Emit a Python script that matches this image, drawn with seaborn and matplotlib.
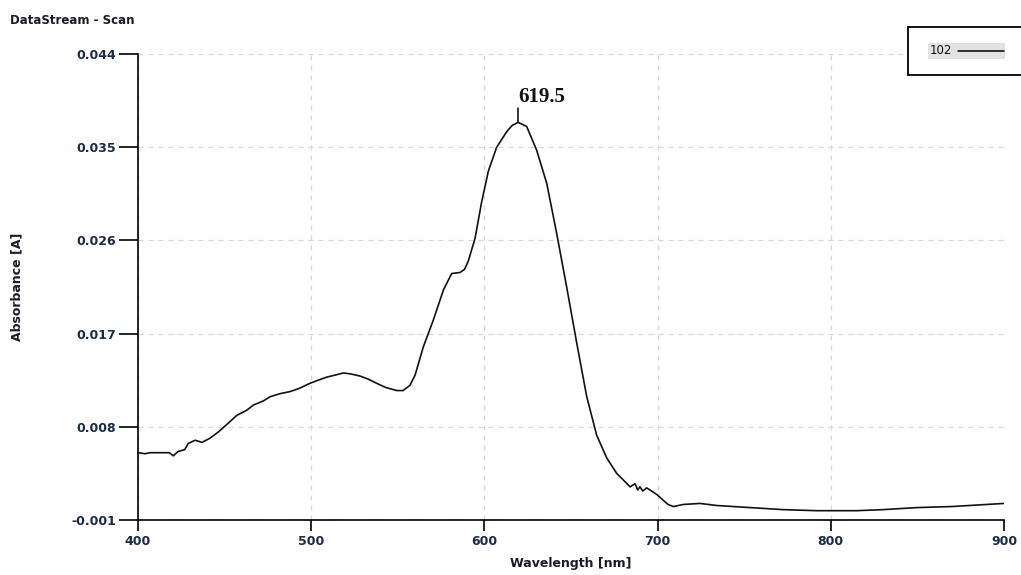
import numpy as np
import pandas as pd
import matplotlib
matplotlib.use("Agg")
import matplotlib.pyplot as plt
from matplotlib.patches import Rectangle
from matplotlib.lines import Line2D
import seaborn as sns

wavelength = [400, 404, 407, 410, 414, 418, 420.4, 423, 427, 429, 433, 437, 441.6, 446.4, 453.1,
              457, 462.8, 466.6, 472.4, 476.2, 482, 487.8, 493, 499.3, 504, 509, 514, 518.6,
              523, 528.2, 533, 537.8, 543, 549.4, 553, 557, 560, 564.7, 570.5, 576.3, 581.1,
              585.9, 588.5, 590.7, 594.6, 598.4, 602.3, 607.1, 612.9, 616, 619.5, 624.4, 630.2, 636,
              641.7, 647.5, 653.3, 659.1, 664.8, 670.6, 676.4, 680, 684.1, 687, 688.5, 689.8,
              691.5, 693.7, 697.5, 700, 703.3, 706, 709.1, 714.8, 724.5, 734.1, 753.3, 772.6,
              791.8, 805.3, 815, 830, 850, 870, 890, 900]
absorbance = [0.0055, 0.0054, 0.0055, 0.0055, 0.0055, 0.0055, 0.0052, 0.0056, 0.0058, 0.0064,
              0.0067, 0.0065, 0.0069, 0.0075, 0.0085, 0.0091, 0.0096, 0.0101, 0.0105, 0.0109,
              0.0112, 0.0114, 0.0117, 0.0122, 0.0125, 0.0128, 0.0130, 0.0132, 0.0131, 0.0129,
              0.0126, 0.0122, 0.0118, 0.0115, 0.0115, 0.0120, 0.0130, 0.0157, 0.0183, 0.0212,
              0.0228, 0.0229, 0.0232, 0.0240, 0.0262, 0.0297, 0.0327, 0.0350, 0.0365, 0.0371, 0.0374,
              0.0370, 0.0347, 0.0315, 0.0267, 0.0215, 0.0161, 0.0109, 0.0072, 0.0050, 0.0035,
              0.0029, 0.0022, 0.0025, 0.0019, 0.0022, 0.0018, 0.0021, 0.0017, 0.0014, 0.0009,
              0.0005, 0.0003, 0.0005, 0.0006, 0.0004, 0.0002, 0.0000, -0.0001, -0.0001, -0.0001,
              0.0000, 0.0002, 0.0003, 0.0005, 0.0006]
peak_wl = 619.5
peak_label = "619.5"
series_name = "102"
y_ticks = [-0.001, 0.008, 0.017, 0.026, 0.035, 0.044]
y_tick_labels = ["-0.001", "0.008", "0.017", "0.026", "0.035", "0.044"]
x_ticks = [400, 500, 600, 700, 800, 900]

df = pd.DataFrame({"Wavelength": wavelength, "Absorbance": absorbance})

sns.set_style("white")
plt.rcParams['font.family'] = ['DejaVu Sans']

fig = plt.figure(figsize=(10.21, 5.75), dpi=100)
ax = fig.add_axes([138/1021, 1-520/575, (1004-138)/1021, (520-54)/575])

sns.lineplot(data=df, x="Wavelength", y="Absorbance", ax=ax, color="#111111",
             linewidth=1.2, legend=False)

ax.set_xlim(400, 900)
ax.set_ylim(-0.001, 0.044)
ax.set_xticks(x_ticks)
ax.set_yticks(y_ticks)
ax.set_yticklabels(y_tick_labels)
ax.grid(True, linestyle=(0, (4, 4)), color="#d8d8d8", linewidth=0.9)
for s in ["top", "right"]:
    ax.spines[s].set_visible(False)
for s in ["left", "bottom"]:
    ax.spines[s].set_color("black")
    ax.spines[s].set_linewidth(1.2)
ax.tick_params(axis="y", length=14, width=1.2, color="black", direction="out",
               labelsize=9, labelcolor="#1a2a4a", pad=2, left=True)
ax.tick_params(axis="x", length=8, width=1.2, color="black", direction="out",
               labelsize=9, labelcolor="#1a2a4a", pad=3, bottom=True)
for lab in ax.get_xticklabels() + ax.get_yticklabels():
    lab.set_fontweight("bold")

ax.set_xlabel("Wavelength [nm]", fontsize=9, fontweight="bold", color="#1a1a2a", labelpad=6)
ax.set_ylabel("Absorbance [A]", fontsize=9, fontweight="bold", color="#1a1a2a",
              labelpad=34, family=["Liberation Sans Narrow", "DejaVu Sans"])

fig.text(10/1021, 1-20/575, "DataStream - Scan", fontsize=8.5, fontweight="bold",
         color="#1a1a2a", va="center", ha="left")

peak_val = absorbance[wavelength.index(peak_wl)]
ax.annotate(peak_label, xy=(peak_wl, peak_val), xytext=(peak_wl, peak_val + 0.0015),
            textcoords="data", ha="left", va="bottom", fontsize=15, fontweight="bold",
            family="Liberation Serif", color="#111111")
ax.plot([peak_wl, peak_wl], [peak_val, peak_val + 0.0014], color="black", linewidth=1.1)

# legend box (manual, partly clipped by the right edge like the reference)
W, H = 1021, 575
fig.add_artist(Rectangle((908/W, 1-75/H), 130/W, 48/H, transform=fig.transFigure,
                         facecolor="white", edgecolor="black", linewidth=1.3, zorder=5))
fig.add_artist(Rectangle((928/W, 1-59/H), 77/W, 16/H, transform=fig.transFigure,
                         facecolor="#e2e2e2", edgecolor="none", zorder=6))
fig.text(930/W, 1-51/H, series_name, fontsize=8.5, color="#111111", va="center",
         ha="left", zorder=7)
fig.add_artist(Line2D([958/W, 1004/W], [1-51/H, 1-51/H], transform=fig.transFigure,
                      color="black", linewidth=1.1, zorder=7))

fig.savefig("out.png", dpi=100)
